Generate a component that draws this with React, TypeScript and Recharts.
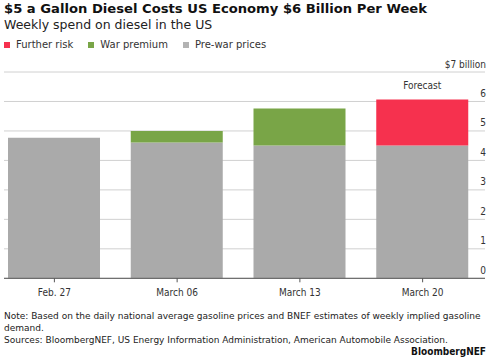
import { BarChart, Bar, XAxis, YAxis, CartesianGrid, LabelList } from "recharts"

const FONT = '"DejaVu Sans", sans-serif'
const FONT_NARROW = '"DejaVu Sans Condensed", "DejaVu Sans", sans-serif'

const GRAY = "#aaaaaa"
const GREEN = "#79a547"
const RED = "#f6314e"
const TEXT = "#333333"

// weeks on the x axis
const weeks = ["Feb. 27", "March 06", "March 13", "March 20"]
// $ billion per week
const preWarPrices = [4.77, 4.61, 4.51, 4.51]
const warPremium = [0, 0.39, 1.25, 0]
const furtherRisk = [0, 0, 0, 1.56]
const yTicks = [0, 1, 2, 3, 4, 5, 6, 7]

const data = weeks.map((week, i) => ({
  week,
  preWar: preWarPrices[i],
  war: warPremium[i],
  risk: furtherRisk[i],
}))

const legendItems = [
  { label: "Further risk", color: RED },
  { label: "War premium", color: GREEN },
  { label: "Pre-war prices", color: "#b3b3b3" },
]

function YTick({ x, y, payload }: any) {
  const label = payload.value === 7 ? "$7 billion" : String(payload.value)
  return (
    <text x={x + 1} y={y - 8} dy="0.35em" textAnchor="end" fill={TEXT} fontSize={10} fontFamily={FONT_NARROW}>
      {label}
    </text>
  )
}

export default function App() {
  return (
    <div style={{ position: "absolute", left: 0, top: 0, width: 500, height: 362, background: "#fff", fontFamily: FONT, color: "#111" }}>
      <div style={{ position: "absolute", left: 4, top: 1, fontSize: 13.15, fontWeight: "bold", whiteSpace: "nowrap" }}>
        $5 a Gallon Diesel Costs US Economy $6 Billion Per Week
      </div>
      <div style={{ position: "absolute", left: 4, top: 17, fontSize: 12.5, color: "#222", whiteSpace: "nowrap" }}>
        Weekly spend on diesel in the US
      </div>
      <div style={{ position: "absolute", left: 4, top: 39, display: "flex", fontSize: 10, color: TEXT, whiteSpace: "nowrap" }}>
        {legendItems.map((item) => (
          <div key={item.label} style={{ display: "flex", alignItems: "center", marginRight: 15 }}>
            <span style={{ width: 6, height: 6, background: item.color, marginRight: 6, display: "inline-block" }} />
            {item.label}
          </div>
        ))}
      </div>

      <div style={{ position: "absolute", left: 0, top: 0 }}>
        <BarChart width={500} height={300} data={data} margin={{ top: 72, right: 14, bottom: 0, left: 4 }} barSize={92}>
          <CartesianGrid vertical={false} stroke="#d0d0d0" />
          <XAxis
            dataKey="week"
            height={21.7}
            padding={{ left: -11, right: 1 }}
            stroke="#555"
            tickSize={4}
            tickMargin={7}
            tick={{ fill: TEXT, fontSize: 10, fontFamily: FONT_NARROW }}
          />
          <YAxis
            orientation="right"
            width={1}
            domain={[0, 7]}
            ticks={yTicks}
            axisLine={false}
            tickLine={false}
            tickSize={0}
            tickMargin={0}
            tick={<YTick />}
          />
          <Bar dataKey="preWar" stackId="a" fill={GRAY} isAnimationActive={false} />
          <Bar dataKey="war" stackId="a" fill={GREEN} isAnimationActive={false} />
          <Bar dataKey="risk" stackId="a" fill={RED} isAnimationActive={false}>
            <LabelList
              dataKey="risk"
              position="top"
              offset={10}
              formatter={(v: any) => (v > 0 ? "Forecast" : "")}
              style={{ fill: TEXT, fontSize: 10, fontFamily: FONT_NARROW }}
            />
          </Bar>
        </BarChart>
      </div>

      <div style={{ position: "absolute", left: 4, top: 310, width: 492, fontSize: 9, lineHeight: "12px", color: "#222" }}>
        Note: Based on the daily national average gasoline prices and BNEF estimates of weekly implied gasoline demand.
        <br />
        Sources: BloombergNEF, US Energy Information Administration, American Automobile Association.
      </div>
      <div style={{ position: "absolute", right: 14, top: 346, fontSize: 10, fontWeight: "bold", fontFamily: FONT_NARROW, color: "#111" }}>
        BloombergNEF
      </div>
    </div>
  )
}
